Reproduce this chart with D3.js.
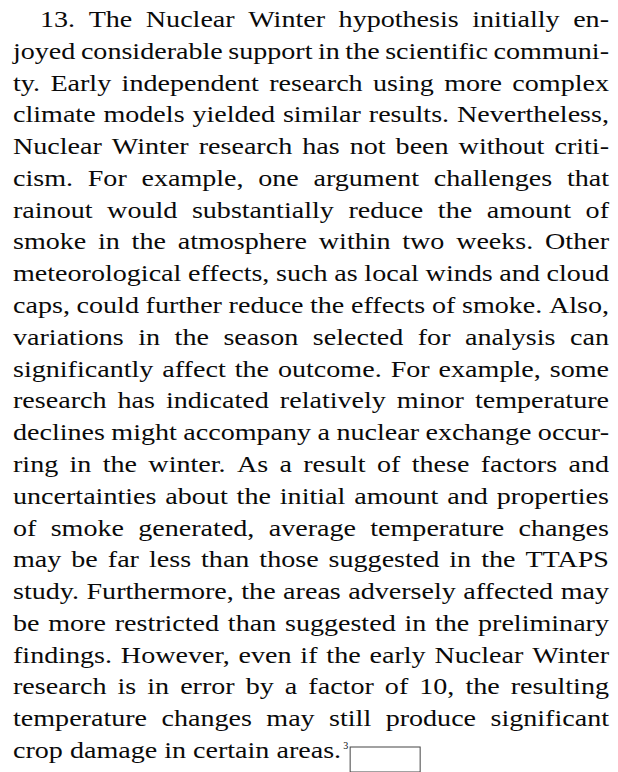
<!DOCTYPE html>
<html>
<head>
<meta charset="utf-8">
<script src="https://cdn.jsdelivr.net/npm/d3@7"></script>
<style>
  html, body { margin: 0; padding: 0; background: #fff; }
  svg { display: block; }
</style>
</head>
<body>
<svg id="page" width="618" height="772"></svg>
<script>
// paragraph text, one entry per printed line
const lines = [
  "13. The Nuclear Winter hypothesis initially en-",
  "joyed considerable support in the scientific communi-",
  "ty. Early independent research using more complex",
  "climate models yielded similar results. Nevertheless,",
  "Nuclear Winter research has not been without criti-",
  "cism. For example, one argument challenges that",
  "rainout would substantially reduce the amount of",
  "smoke in the atmosphere within two weeks. Other",
  "meteorological effects, such as local winds and cloud",
  "caps, could further reduce the effects of smoke. Also,",
  "variations in the season selected for analysis can",
  "significantly affect the outcome. For example, some",
  "research has indicated relatively minor temperature",
  "declines might accompany a nuclear exchange occur-",
  "ring in the winter. As a result of these factors and",
  "uncertainties about the initial amount and properties",
  "of smoke generated, average temperature changes",
  "may be far less than those suggested in the TTAPS",
  "study. Furthermore, the areas adversely affected may",
  "be more restricted than suggested in the preliminary",
  "findings. However, even if the early Nuclear Winter",
  "research is in error by a factor of 10, the resulting",
  "temperature changes may still produce significant",
  "crop damage in certain areas."
];
const noteMark = ["3"];

const left = 13, right = 609, indent = 40;
const fontSize = 23;
const font = '"Liberation Serif", "Times New Roman", serif';

const svg = d3.select("#page");
const y = d3.scaleLinear().domain([0, lines.length - 1]).range([27, 758]);

// measuring helper
const probe = svg.append("text")
    .attr("font-family", font)
    .attr("font-size", fontSize)
    .attr("visibility", "hidden");
const measure = s => { probe.text(s); return probe.node().getComputedTextLength(); };
const spaceW = measure("a a") - measure("aa");

const rows = lines.map((line, i) => {
    const words = line.split(" ");
    return { i, words, widths: words.map(measure), x0: i === 0 ? indent : left, last: i === lines.length - 1 };
});

// the printed face is wider than Times: stretch glyphs so the tightest line keeps a small gap
const minGap = fontSize * 0.24;
const stretch = d3.min(rows.filter(r => !r.last),
    r => (right - r.x0 - (r.words.length - 1) * minGap) / d3.sum(r.widths));
probe.remove();

const words = [];
rows.forEach(r => {
    const total = d3.sum(r.widths) * stretch;
    const gap = r.last ? spaceW * stretch : (right - r.x0 - total) / (r.words.length - 1);
    let x = r.x0;
    r.words.forEach((w, k) => {
        const len = r.widths[k] * stretch;
        words.push({ text: w, x, y: y(r.i), len });
        x += len + gap;
    });
});

svg.append("g")
    .attr("font-family", font)
    .attr("font-size", fontSize)
    .attr("fill", "#0a0a0a")
  .selectAll("text")
  .data(words)
  .join("text")
    .attr("x", d => d.x)
    .attr("y", d => d.y)
    .attr("textLength", d => d.len)
    .attr("lengthAdjust", "spacingAndGlyphs")
    .text(d => d.text);

// footnote mark and the empty box after it
const lastWord = words[words.length - 1];
const markX = lastWord.x + lastWord.len + 2;
svg.append("text")
    .attr("x", markX)
    .attr("y", lastWord.y - 9)
    .attr("font-family", font)
    .attr("font-size", 10)
    .attr("fill", "#0a0a0a")
    .text(noteMark[0]);

svg.append("rect")
    .attr("x", markX + 7)
    .attr("y", lastWord.y - 11)
    .attr("width", 70)
    .attr("height", 25)
    .attr("fill", "none")
    .attr("stroke", "#444")
    .attr("stroke-width", 1);
</script>
</body>
</html>
